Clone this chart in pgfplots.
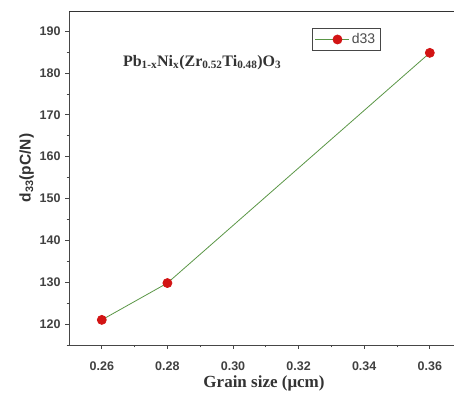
\documentclass[border=0pt]{standalone}
\usepackage{fontspec}
\setmainfont{Liberation Serif}
\setsansfont{Liberation Sans}
\usepackage{pgfplots}
\pgfplotsset{compat=1.18}
\definecolor{lgreen}{RGB}{90,150,70}
\definecolor{mred}{RGB}{210,20,20}
\definecolor{axgray}{RGB}{70,70,70}
\begin{document}
\begin{tikzpicture}[x=1pt,y=1pt]
\begin{axis}[
  name=ax,
  scale only axis, width=390pt, height=334pt,
  xmin=0.25, xmax=0.3689, ymin=115, ymax=194.8,
  axis line style={axgray, line width=0.9pt},
  xtick pos=bottom, ytick pos=left,
  xtick={0.26,0.28,...,0.36}, minor xtick={0.27,0.29,...,0.37},
  ytick={120,130,...,190}, minor ytick={115,125,...,195},
  tick align=outside, major tick length=4pt, minor tick length=2.5pt,
  tick style={axgray, line width=0.7pt},
  xticklabel style={font=\sffamily\bfseries\fontsize{12.5}{14}\selectfont, text=black!75, yshift=-9pt},
  yticklabel style={font=\sffamily\bfseries\fontsize{12.5}{14}\selectfont, text=black!75, xshift=-1pt},
  /pgf/number format/assume math mode=true,
  xticklabel={\pgfmathprintnumber[fixed,fixed zerofill,precision=2]{\tick}},
  yticklabel={\pgfmathprintnumber[fixed,precision=0]{\tick}},
  xlabel={\bfseries\fontsize{17}{19}\selectfont Grain size (μcm)},
  xlabel style={text=black!80, yshift=2pt},
  ylabel={\sffamily\bfseries\fontsize{15.5}{18}\selectfont d\textsubscript{33}(pC/N)},
  ylabel style={text=black!80, yshift=-1pt, xshift=10pt},
  legend style={at={(rel axis cs:0.6225,0.948)}, anchor=north west, draw=axgray, line width=0.6pt, font=\sffamily\fontsize{14}{16}\selectfont, text=black!70, inner xsep=3pt, inner ysep=3pt},
  legend image code/.code={\draw[mark=none] (0pt,0pt) -- (34pt,0pt); \draw[only marks] plot coordinates {(22pt,0pt)};},
  legend cell align=left,
  clip=false,
]
\addplot[lgreen, line width=0.8pt, mark=*, mark size=4.5pt, mark options={fill=mred, draw=mred}] coordinates {
  (0.26,121) (0.28,129.8) (0.36,184.8)
};
\addlegendentry{d33}
\node[font=\bfseries\fontsize{16}{18}\selectfont, text=black!80] at (axis cs:0.2906,182.5) {Pb\textsubscript{1-x}Ni\textsubscript{x}(Zr\textsubscript{0.52}Ti\textsubscript{0.48})O\textsubscript{3}};
\end{axis}
\draw[black!80, line width=1.5pt] (ax.south west) ++(0pt,333.5pt) -- ++(390pt,0pt);
\pgfresetboundingbox
\path[use as bounding box] (ax.south west) ++(-69pt,-58pt) rectangle ++(454pt,403pt);
\end{tikzpicture}
\end{document}
